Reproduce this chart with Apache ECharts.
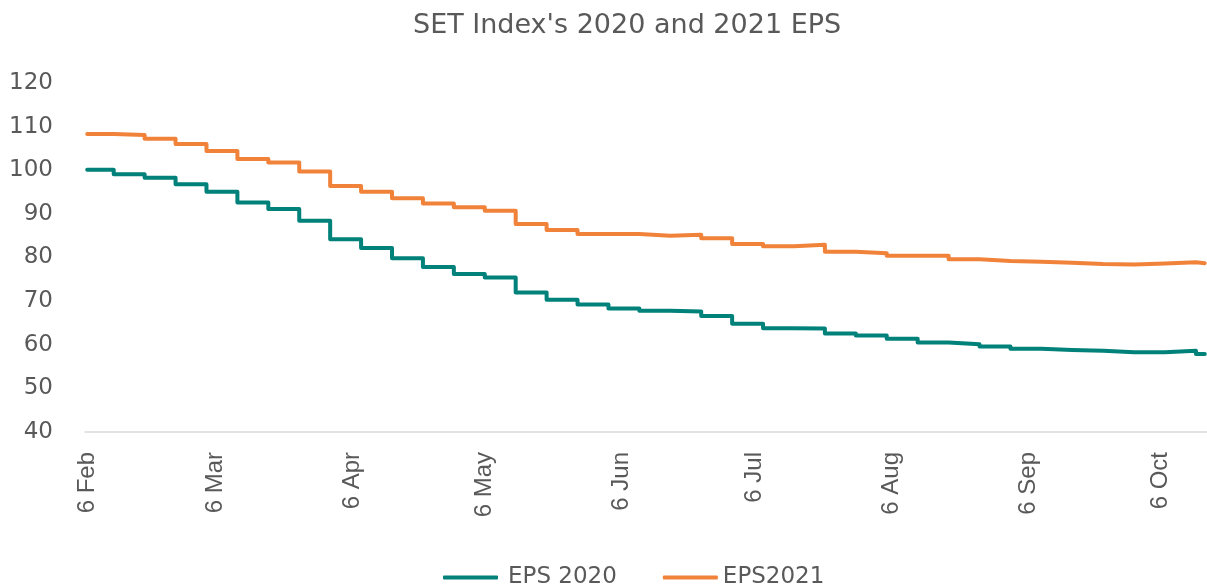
<!DOCTYPE html>
<html>
<head>
<meta charset="utf-8">
<script src="https://cdn.jsdelivr.net/npm/echarts@6/dist/echarts.min.js"></script>
<style>
    html, body { margin: 0; padding: 0; background: #fff; }
    #main { width: 1207px; height: 585px; }
</style>
</head>
<body>
<div id="main"></div>
<script type="text/javascript">
    // weekly EPS revisions (value holds from that date until the next one)
    var changeDates = [
        '2020-02-06', '2020-02-12', '2020-02-19', '2020-02-26', '2020-03-04', '2020-03-11',
        '2020-03-18', '2020-03-25', '2020-04-01', '2020-04-08', '2020-04-15', '2020-04-22',
        '2020-04-29', '2020-05-06', '2020-05-13', '2020-05-20', '2020-05-27', '2020-06-03',
        '2020-06-10', '2020-06-17', '2020-06-24', '2020-07-01', '2020-07-08', '2020-07-15',
        '2020-07-22', '2020-07-29', '2020-08-05', '2020-08-12', '2020-08-19', '2020-08-26',
        '2020-09-02', '2020-09-09', '2020-09-16', '2020-09-23', '2020-09-30', '2020-10-07',
        '2020-10-14'
    ];
    var lastDate = '2020-10-16';

    var eps2020 = [
        100.1, 99.1, 98.3, 96.8, 95.1, 92.6,
        91.1, 88.4, 84.2, 82.2, 79.8, 77.8,
        76.2, 75.4, 72.0, 70.3, 69.2, 68.3,
        67.8, 67.6, 66.6, 64.8, 63.8, 63.7,
        62.6, 62.1, 61.4, 60.5, 60.1, 59.6,
        59.1, 58.8, 58.6, 58.3, 58.3, 58.6,
        57.9
    ];
    var eps2021 = [
        108.3, 108.1, 107.2, 106.0, 104.4, 102.6,
        101.8, 99.7, 96.4, 95.1, 93.6, 92.4,
        91.5, 90.7, 87.7, 86.3, 85.4, 85.4,
        85.0, 85.2, 84.4, 83.1, 82.6, 82.9,
        81.3, 81.0, 80.4, 80.4, 79.6, 79.2,
        79.0, 78.8, 78.5, 78.4, 78.6, 78.9,
        78.7
    ];

    var tickDates = [
        '2020-02-06', '2020-03-06', '2020-04-06', '2020-05-06', '2020-06-06',
        '2020-07-06', '2020-08-06', '2020-09-06', '2020-10-06'
    ];
    var monthNames = ['Jan', 'Feb', 'Mar', 'Apr', 'May', 'Jun', 'Jul', 'Aug', 'Sep', 'Oct', 'Nov', 'Dec'];

    var HALF_DAY = 12 * 3600 * 1000;
    function toTime(s) {
        var p = s.split('-');
        return new Date(+p[0], +p[1] - 1, +p[2]).getTime();
    }
    function buildSeries(values) {
        var pts = changeDates.map(function (d, i) { return [toTime(d), values[i]]; });
        pts.push([toTime(lastDate), values[values.length - 1]]);
        return pts;
    }

    var textColor = '#595959';
    var myChart = echarts.init(document.getElementById('main'));
    myChart.setOption({
        animation: false,
        backgroundColor: '#fff',
        title: {
            text: "SET Index's 2020 and 2021 EPS",
            left: 408,
            top: 7,
            textStyle: {
                fontFamily: 'DejaVu Sans',
                fontSize: 27,
                fontWeight: 'normal',
                color: textColor
            }
        },
        legend: {
            left: 438,
            top: 561,
            icon: 'roundRect',
            itemWidth: 55,
            itemHeight: 4,
            itemGap: 46,
            textStyle: {
                fontFamily: 'DejaVu Sans',
                fontSize: 23,
                color: textColor
            },
            data: [
                { name: 'EPS 2020', textStyle: { padding: [0, 0, 0, 5] } },
                'EPS2021'
            ]
        },
        grid: {
            left: 85,
            right: 0,
            top: 83,
            bottom: 153,
            outerBoundsMode: 'none'
        },
        xAxis: {
            type: 'value',
            min: toTime(changeDates[0]) - HALF_DAY,
            max: toTime(lastDate) + HALF_DAY,
            splitLine: { show: false },
            axisTick: { show: false },
            axisLine: { lineStyle: { color: '#d9d9d9', width: 1.5 } },
            axisLabel: {
                customValues: tickDates.map(toTime),
                rotate: 90,
                margin: 20,
                fontFamily: 'Liberation Sans',
                fontSize: 24,
                color: textColor,
                formatter: function (v) {
                    var d = new Date(v);
                    return d.getDate() + ' ' + monthNames[d.getMonth()];
                }
            }
        },
        yAxis: {
            type: 'value',
            min: 40,
            max: 120,
            interval: 10,
            splitLine: { show: false },
            axisLine: { show: false },
            axisTick: { show: false },
            axisLabel: {
                margin: 32,
                fontFamily: 'DejaVu Sans',
                fontSize: 23,
                color: textColor
            }
        },
        series: [
            {
                name: 'EPS 2020',
                type: 'line',
                step: 'end',
                symbol: 'none',
                color: '#00817a',
                lineStyle: { width: 4, color: '#00817a', cap: 'round', join: 'round' },
                data: buildSeries(eps2020)
            },
            {
                name: 'EPS2021',
                type: 'line',
                step: 'end',
                symbol: 'none',
                color: '#f0823a',
                lineStyle: { width: 4, color: '#f0823a', cap: 'round', join: 'round' },
                data: buildSeries(eps2021)
            }
        ]
    });
</script>
</body>
</html>
